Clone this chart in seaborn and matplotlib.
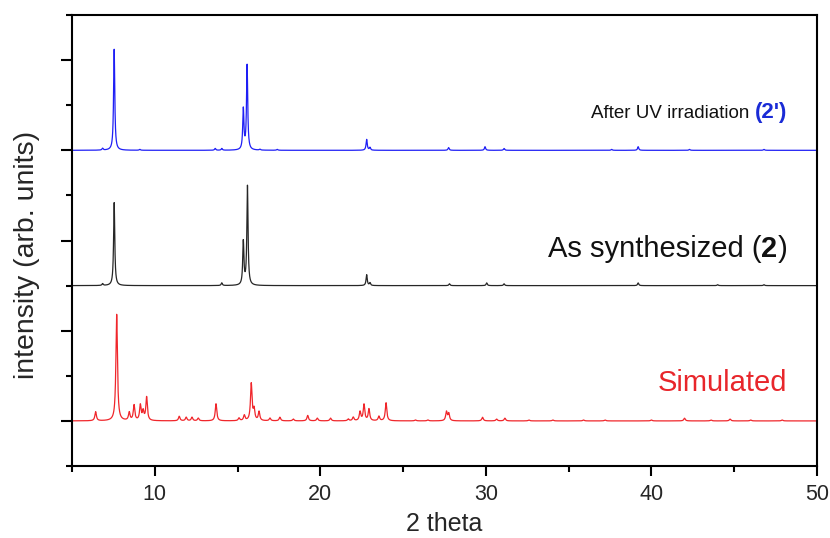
import numpy as np
import pandas as pd
import matplotlib
matplotlib.use("Agg")
import matplotlib.pyplot as plt
import seaborn as sns
from matplotlib.ticker import MultipleLocator, NullFormatter
from matplotlib.offsetbox import TextArea, HPacker, AnnotationBbox

# Peak lists (2 theta position, relative height)
sim_pos = [6.43, 7.70, 8.46, 8.75, 9.13, 9.30, 9.51, 11.48, 11.90, 12.25, 12.63,
           13.70, 15.09, 15.41, 15.83, 16.00, 16.30, 16.96, 17.56, 18.37, 19.24,
           19.82, 20.62, 21.69, 21.99, 22.40, 22.64, 22.94, 23.54, 23.97, 25.75,
           26.50, 27.62, 27.76, 29.80, 30.65, 31.15, 32.60, 34.05, 35.90, 37.20,
           40.00, 42.00, 43.60, 44.75, 46.00, 47.90]
sim_int = [0.10, 1.18, 0.09, 0.17, 0.17, 0.10, 0.26, 0.05, 0.04, 0.04, 0.03,
           0.19, 0.03, 0.06, 0.41, 0.12, 0.10, 0.03, 0.04, 0.02, 0.06,
           0.03, 0.03, 0.02, 0.04, 0.10, 0.18, 0.13, 0.05, 0.20, 0.01,
           0.01, 0.10, 0.08, 0.04, 0.02, 0.03, 0.01, 0.01, 0.01, 0.01,
           0.01, 0.03, 0.01, 0.02, 0.01, 0.01]

syn_pos = [6.85, 7.55, 14.05, 15.35, 15.60, 22.80, 23.00, 27.80, 30.05, 31.10,
           39.20, 44.00, 46.80]
syn_int = [0.02, 0.92, 0.03, 0.48, 1.10, 0.12, 0.03, 0.02, 0.03, 0.02,
           0.03, 0.01, 0.01]

uv_pos = [6.85, 7.55, 9.10, 13.65, 14.05, 15.35, 15.58, 16.35, 17.40, 22.80,
          23.00, 27.75, 29.95, 31.10, 37.60, 39.20, 42.30, 46.80]
uv_int = [0.02, 1.12, 0.01, 0.02, 0.02, 0.45, 0.94, 0.01, 0.01, 0.12,
          0.03, 0.03, 0.04, 0.02, 0.01, 0.04, 0.01, 0.01]

patterns = ["Simulated", "As synthesized", "After UV"]

# styling / layout
offsets = {"Simulated": 0.0, "As synthesized": 1.5, "After UV": 3.0}
fwhm = {"Simulated": 0.11, "As synthesized": 0.085, "After UV": 0.085}
palette = {"Simulated": "#f0262b", "As synthesized": "#262626", "After UV": "#1f1ff5"}

two_theta = np.arange(5.0, 50.0001, 0.005)


def profile(pos, inten, w):
    y = np.zeros_like(two_theta)
    for p, h in zip(pos, inten):
        y += h / (1.0 + ((two_theta - p) / (w / 2.0)) ** 2)
    return y


frames = []
for name, pos, inten in [("Simulated", sim_pos, sim_int),
                         ("As synthesized", syn_pos, syn_int),
                         ("After UV", uv_pos, uv_int)]:
    frames.append(pd.DataFrame({
        "2theta": two_theta,
        "intensity": profile(pos, inten, fwhm[name]) + offsets[name],
        "pattern": name,
    }))
df = pd.concat(frames, ignore_index=True)

sns.set_theme(style="ticks")
plt.rcParams["font.family"] = ["Liberation Sans", "DejaVu Sans"]

fig = plt.figure(figsize=(8.3, 5.38), dpi=100)
ax = fig.add_axes([0.0867, 0.1338, 0.8976, 0.8383])

sns.lineplot(data=df, x="2theta", y="intensity", hue="pattern", palette=palette,
             estimator=None, sort=False, linewidth=0.9, legend=False, ax=ax)

ax.set_xlim(5, 50)
ax.set_ylim(-0.5, 4.5)
ax.xaxis.set_major_locator(MultipleLocator(10))
ax.xaxis.set_minor_locator(MultipleLocator(5))
ax.yaxis.set_major_locator(MultipleLocator(1))
ax.yaxis.set_minor_locator(MultipleLocator(0.5))
ax.yaxis.set_major_formatter(NullFormatter())
ax.tick_params(which="both", direction="out", top=False, right=False, width=1.5, color="black")
ax.tick_params(axis="x", which="major", length=7, labelsize=15.5, pad=6)
ax.tick_params(axis="x", which="minor", length=4)
ax.tick_params(axis="y", which="major", length=8)
ax.tick_params(axis="y", which="minor", length=4.5)
for sp in ax.spines.values():
    sp.set_linewidth(1.5)
    sp.set_color("black")

ax.set_xlabel("2 theta", fontsize=18, labelpad=5)
ax.set_ylabel("intensity (arb. units)", fontsize=20.5)
ax.yaxis.set_label_coords(-0.043, 0.468)


def label(parts, x, y):
    boxes = [TextArea(t, textprops=p) for t, p in parts]
    pack = HPacker(children=boxes, align="baseline", pad=0, sep=0)
    ab = AnnotationBbox(pack, (x, y), xycoords="data", box_alignment=(1, 0.5),
                        frameon=False, pad=0)
    ax.add_artist(ab)


label([("After UV irradiation ", dict(fontsize=13.5, color="#111111")),
       ("(2')", dict(fontsize=16, color="#1a2bd6", fontweight="bold"))],
      48.2, 3.42)
label([("As synthesized (", dict(fontsize=21, color="#111111")),
       ("2", dict(fontsize=21, color="#111111", fontweight="bold")),
       (")", dict(fontsize=21, color="#111111"))],
      48.2, 1.91)
label([("Simulated", dict(fontsize=21, color="#e8262b"))], 48.2, 0.42)

fig.savefig("out.png", dpi=100)
